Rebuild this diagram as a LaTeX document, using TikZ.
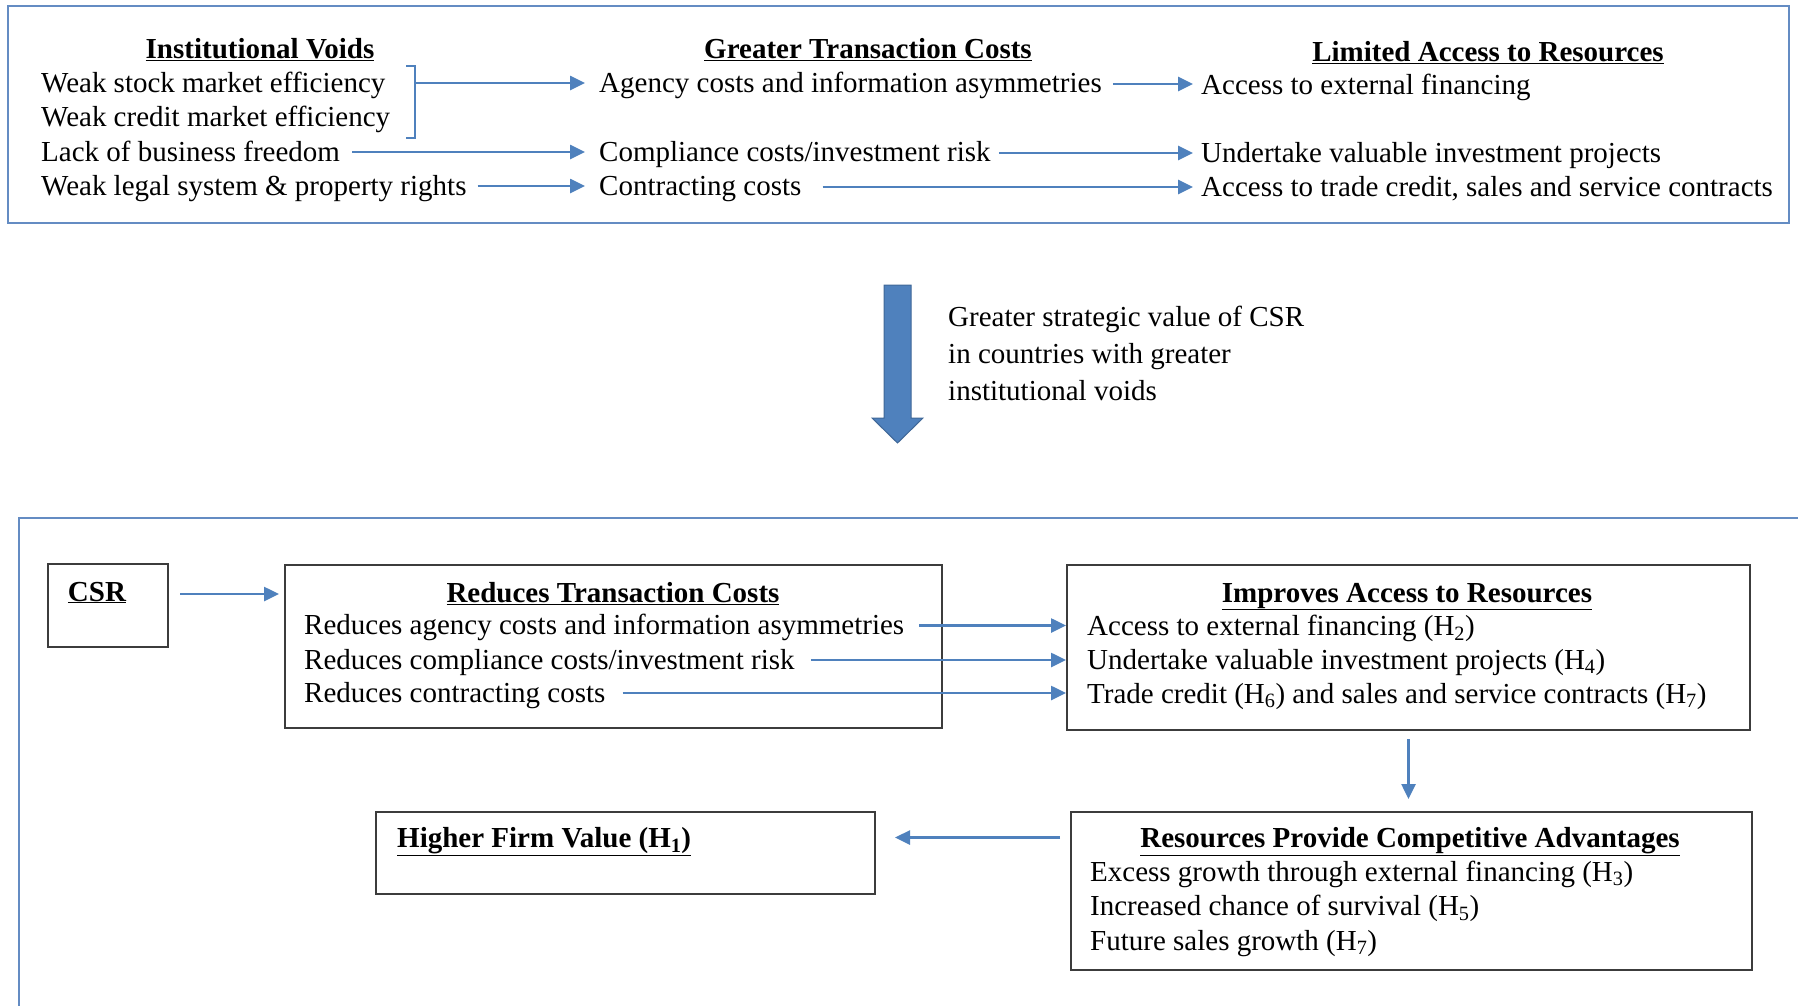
\documentclass[tikz,border=0pt]{standalone}
\usepackage{fontspec}
\setmainfont{Liberation Serif}
\usetikzlibrary{arrows.meta}
\usetikzlibrary{calc}
\definecolor{arrblue}{RGB}{79,129,189}
\definecolor{frameblue}{RGB}{100,140,195}
\definecolor{boxgray}{RGB}{60,60,60}
\newcommand{\diagfont}{\fontsize{29}{36.7}\selectfont}

\tikzset{
  txt/.style={anchor=base west,inner sep=0pt,font=\diagfont},
  hd/.style={anchor=base,inner sep=0pt,font=\diagfont\bfseries},
  frame/.style={draw=frameblue,line width=2.5pt},
  box/.style={draw=boxgray,line width=2pt,anchor=north west,inner sep=0pt},
  arr/.style={draw=arrblue,line width=2.6pt,-{Triangle[length=15pt,width=14pt]}},
}

\begin{document}
\begin{tikzpicture}[x=1pt,y=-1pt]
  \useasboundingbox (0,0) rectangle (1798,1005);
  \clip (0,0) rectangle (1798,1005);

  % Top frame
  \draw[frame] (8,6) rectangle (1789,223);

  % Institutional voids
  \node[hd] (ivh) at (260,58.5) {\underline{Institutional Voids}};
  \node[txt] (iv1) at (41,92) {Weak stock market efficiency};
  \node[txt] (iv2) at (41,126.5) {Weak credit market efficiency};
  \node[txt] (iv3) at (41,161) {Lack of business freedom};
  \node[txt] (iv4) at (41,195) {Weak legal system \& property rights};

  % Greater transaction costs
  \node[hd] (gth) at (868,58.5) {\underline{Greater Transaction Costs}};
  \node[txt] (gt1) at (599,92) {Agency costs and information asymmetries};
  \node[txt] (gt3) at (599,161) {Compliance costs/investment risk};
  \node[txt] (gt4) at (599,195) {Contracting costs};

  % Limited access to resources
  \node[hd] (lah) at (1488,61) {\underline{Limited Access to Resources}};
  \node[txt] (la1) at (1201,94.5) {Access to external financing};
  \node[txt] (la3) at (1201,162) {Undertake valuable investment projects};
  \node[txt] (la4) at (1201,196.5) {Access to trade credit, sales and service contracts};

  % Bracket and arrows of the top frame
  \draw[draw=arrblue,line width=1.5pt] (406,66) -- (415,66) -- (415,138) -- (406,138);
  \coordinate (brk) at (415,83);
  \draw[arr,shorten >=14pt] (brk) -- (brk -| gt1.west);
  \draw[arr,shorten <=12pt,shorten >=14pt] ($(iv3.base east)+(0,-9)$) -- ($(iv3.base east -| gt3.west)+(0,-9)$);
  \draw[arr,shorten <=11pt,shorten >=14pt] ($(iv4.base east)+(0,-9)$) -- ($(iv4.base east -| gt4.west)+(0,-9)$);
  \draw[arr,shorten <=11pt,shorten >=8pt] ($(gt1.base east)+(0,-8)$) -- ($(gt1.base east -| la1.west)+(0,-8)$);
  \draw[arr,shorten <=8pt,shorten >=8pt] ($(gt3.base east)+(0,-8)$) -- ($(gt3.base east -| la3.west)+(0,-8)$);
  \draw[arr,shorten <=21pt,shorten >=8pt] ($(gt4.base east)+(0,-8)$) -- ($(gt4.base east -| la4.west)+(0,-8)$);

  % Big down arrow
  \filldraw[fill=arrblue,draw=arrblue!80!black,line width=1pt]
    (884,285) -- (911,285) -- (911,418) -- (923,418) -- (897.5,443)
    -- (872,418) -- (884,418) -- cycle;
  \node[txt,anchor=north west,align=left] (gsv) at (948,306)
    {Greater strategic value of CSR\\in countries with greater\\institutional voids};

  % Bottom frame
  \draw[frame] (19,518) rectangle (1840,1040);

  % Boxes
  \node[box,minimum width=120,minimum height=83] (csr) at (47,563) {};
  \node[box,minimum width=657,minimum height=163] (rtc) at (284,564) {};
  \node[box,minimum width=683,minimum height=165] (iar) at (1066,564) {};
  \node[box,minimum width=681,minimum height=158] (res) at (1070,811) {};
  \node[box,minimum width=499,minimum height=82] (hfv) at (375,811) {};

  % CSR
  \node[hd] (csrt) at (97,601) {\underline{CSR}};

  % Reduces transaction costs
  \node[hd] (rtch) at (613,602) {\underline{Reduces Transaction Costs}};
  \node[txt] (rt1) at (304,634.5) {Reduces agency costs and information asymmetries};
  \node[txt] (rt2) at (304,669) {Reduces compliance costs/investment risk};
  \node[txt] (rt3) at (304,702) {Reduces contracting costs};

  % Improves access to resources
  \node[hd] (iarh) at (1407,602) {\underline{Improves Access to Resources}};
  \node[txt] (ia1) at (1087,635.5) {Access to external financing (H\textsubscript{2})};
  \node[txt] (ia2) at (1087,669) {Undertake valuable investment projects (H\textsubscript{4})};
  \node[txt] (ia3) at (1087,703) {Trade credit (H\textsubscript{6}) and sales and service contracts (H\textsubscript{7})};

  % Resources provide competitive advantages
  \node[hd] (resh) at (1410,847.5) {\underline{Resources Provide Competitive Advantages}};
  \node[txt] (rs1) at (1090,881) {Excess growth through external financing (H\textsubscript{3})};
  \node[txt] (rs2) at (1090,915.5) {Increased chance of survival (H\textsubscript{5})};
  \node[txt] (rs3) at (1090,950) {Future sales growth (H\textsubscript{7})};

  % Higher firm value
  \node[hd,anchor=base west] (hfvt) at (397,847.5) {\underline{Higher Firm Value (H\textsubscript{1})}};

  % Arrows of the bottom frame
  \draw[arr,shorten <=11pt,shorten >=5pt] ($(csr.east |- csrt.base)+(0,-7)$) -- ($(rtc.west |- csrt.base)+(0,-7)$);
  \draw[arr,shorten <=15pt] ($(rt1.base east)+(0,-9)$) -- ($(rt1.base east -| iar.west)+(0,-9)$);
  \draw[arr,shorten <=16pt] ($(rt2.base east)+(0,-9)$) -- ($(rt2.base east -| iar.west)+(0,-9)$);
  \draw[arr,shorten <=17pt] ($(rt3.base east)+(0,-9)$) -- ($(rt3.base east -| iar.west)+(0,-9)$);
  \draw[arr,shorten <=8pt,shorten >=12pt] (iar.south) -- (iar.south |- res.north);
  \draw[arr,shorten <=10pt,shorten >=19pt] ($(res.west |- resh.base)+(0,-10)$) -- ($(hfv.east |- resh.base)+(0,-10)$);
\end{tikzpicture}
\end{document}
